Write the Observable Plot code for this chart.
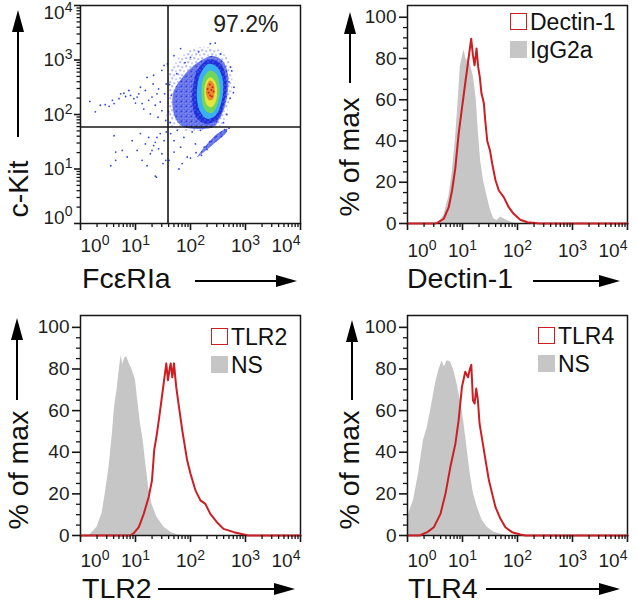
<!DOCTYPE html>
<html><head><meta charset="utf-8">
<script src="https://cdn.jsdelivr.net/npm/d3@7"></script>
<script src="https://cdn.jsdelivr.net/npm/@observablehq/plot@0.6"></script>
<style>
body{margin:0;background:#fff;}
#root{position:relative;width:638px;height:604px;overflow:hidden;background:#fff;font-family:"Liberation Sans",Arial,Helvetica,sans-serif;color:#111;}
#root svg{position:absolute;overflow:visible;}
.t{position:absolute;white-space:nowrap;line-height:1;}
.title{font-size:28.5px;}
.rot{transform:translate(-50%,-50%) rotate(-90deg);}
.leg{font-size:23px;}
.sq{position:absolute;box-sizing:border-box;width:17px;height:17px;}
.hs{position:absolute;height:2.6px;background:#000;}
.hh{position:absolute;width:0;height:0;border-top:6.5px solid transparent;border-bottom:6.5px solid transparent;border-left:21px solid #000;}
.vs{position:absolute;width:2.6px;background:#000;}
.vh{position:absolute;width:0;height:0;border-left:6.5px solid transparent;border-right:6.5px solid transparent;border-bottom:22px solid #000;}
</style>
</head><body>
<div id="root"></div>
<script>
// ---------- data (x values are log10 of fluorescence, y values are % of max) ----------
const decadeTicks = [1, 10, 100, 1000, 10000];
const minorMultipliers = [2, 3, 4, 5, 6, 7, 8, 9];
const pctMajorTicks = [0, 20, 40, 60, 80, 100];
const pctMinorTicks = [5, 10, 15, 25, 30, 35, 45, 50, 55, 65, 70, 75, 85, 90, 95];

const dectinRed = [[0,0],[0.5,0],[0.54,0.3],[0.66,2.3],[0.75,7.9],[0.81,16],[0.87,27],[0.93,43.5],[0.99,56],[1.05,68],[1.11,80],[1.158,89.6],[1.19,81.5],[1.22,76.7],[1.255,84.8],[1.285,75.9],[1.315,71],[1.345,63],[1.37,60.5],[1.39,58],[1.41,51],[1.45,40],[1.5,35.4],[1.54,29],[1.6,21],[1.66,16],[1.75,12.8],[1.84,7.9],[1.93,4.7],[2.05,1.8],[2.18,0.6],[2.33,0.2],[2.4,0],[4,0]];
const igg2aGray = [[0.5,0],[0.57,0.5],[0.66,3.9],[0.75,12.8],[0.81,24],[0.87,40],[0.93,63],[0.96,76],[1.01,82.4],[1.03,84],[1.06,80],[1.08,79],[1.11,80.5],[1.14,77.5],[1.2,71],[1.25,60],[1.29,43.5],[1.33,30.6],[1.38,21],[1.45,12.8],[1.51,6.3],[1.57,2.3],[1.63,1.5],[1.69,3.1],[1.75,2.3],[1.84,1.1],[1.93,0.3],[2.0,0]];

const tlr2Red = [[0,0],[0.9,0],[0.97,1.1],[1.06,4],[1.15,10.4],[1.24,18.5],[1.3,26.5],[1.34,41],[1.39,49],[1.44,58.6],[1.48,66.6],[1.52,74.6],[1.56,82.7],[1.59,74.6],[1.62,80],[1.64,82.7],[1.67,76],[1.7,82.7],[1.74,71.4],[1.79,61.8],[1.85,50.6],[1.89,44],[1.94,36],[2.0,29.7],[2.09,21.7],[2.18,16.9],[2.27,15.2],[2.36,10.4],[2.48,6.4],[2.6,3.2],[2.79,1.6],[2.97,0.5],[3.05,0],[4,0]];
const tlr2Gray = [[0.15,0],[0.18,0.5],[0.3,4],[0.39,10.4],[0.45,20],[0.52,33],[0.58,49],[0.62,62],[0.67,71],[0.71,81],[0.74,86.5],[0.77,82],[0.8,85],[0.84,86],[0.88,83],[0.94,79.5],[1.0,74.6],[1.04,65],[1.09,53.8],[1.14,45.7],[1.18,36],[1.24,23],[1.3,15],[1.39,8.8],[1.52,4],[1.64,1.6],[1.76,0.3],[1.85,0]];

const tlr4Red = [[0,0],[0.22,0],[0.36,1.6],[0.48,4],[0.6,10.4],[0.69,20],[0.78,33],[0.87,44],[0.93,55.4],[0.99,71.4],[1.05,78.7],[1.1,76],[1.13,79.5],[1.16,82],[1.19,65],[1.22,63.4],[1.25,70.6],[1.28,65],[1.31,53.8],[1.36,45.7],[1.42,36],[1.48,26.5],[1.54,20],[1.6,13.6],[1.69,8],[1.78,4],[1.9,1.6],[2.05,0.5],[2.15,0],[4,0]];
const tlr4Gray = [[0,8.8],[0.11,16.9],[0.2,29.7],[0.29,45.7],[0.36,52],[0.42,60],[0.51,73],[0.57,79.5],[0.63,84],[0.67,81],[0.72,84],[0.78,83.5],[0.84,79.5],[0.9,73],[0.96,65],[1.02,55.4],[1.08,42.5],[1.14,29.7],[1.2,20],[1.27,13.6],[1.36,7.2],[1.45,4],[1.57,1.6],[1.72,0.5],[1.8,0]];

// scatter (log10 FceRIa, log10 c-Kit)
const gateFceRIa = 39, gateCKit = 59;
const gateLabel = "97.2%";
const haloLevel = [[1.61,2.75],[1.82,3.08],[2.18,3.24],[2.55,3.17],[2.73,2.93],[2.76,2.50],[2.67,2.07],[2.55,1.80],[1.61,1.78],[1.58,2.26]];
const sparseBlueLevel = [[2.39,3.08],[2.58,2.99],[2.68,2.75],[2.68,2.44],[2.62,2.13],[2.51,1.89],[2.42,1.77],[1.88,1.77],[1.73,1.92],[1.67,2.2],[1.70,2.44],[1.85,2.68],[2.06,2.9],[2.24,3.02]];
const denseBlueLevel = [[2.33,3.01],[2.55,2.93],[2.64,2.70],[2.65,2.44],[2.59,2.12],[2.48,1.90],[2.28,1.83],[2.10,1.95],[2.03,2.25],[2.05,2.55],[2.13,2.82]];
const cyanLevel = [[2.333,2.93],[2.485,2.868],[2.576,2.684],[2.594,2.44],[2.545,2.165],[2.455,1.982],[2.303,1.921],[2.182,2.043],[2.121,2.257],[2.121,2.501],[2.182,2.747]];
const greenLevel = [[2.351,2.807],[2.467,2.747],[2.527,2.563],[2.527,2.349],[2.473,2.134],[2.376,2.024],[2.273,2.073],[2.212,2.226],[2.2,2.44],[2.231,2.655]];
const yellowLevel = [[2.364,2.684],[2.455,2.593],[2.485,2.409],[2.455,2.226],[2.376,2.134],[2.291,2.183],[2.255,2.349],[2.261,2.532],[2.303,2.636]];
const redLevel = [[2.351,2.624],[2.424,2.563],[2.436,2.409],[2.412,2.288],[2.345,2.257],[2.291,2.349],[2.291,2.501]];
const streakLevel = [[2.182,1.308],[2.485,1.646],[2.667,1.738],[2.655,1.675],[2.424,1.462],[2.121,1.217]];
const redSpeckles = [[2.35,2.55],[2.38,2.45],[2.33,2.40],[2.40,2.50],[2.36,2.35],[2.42,2.42],[2.31,2.47],[2.39,2.33]];
const sparseDots = [
 [0.17,2.24],[0.27,2.05],[0.36,2.17],[0.45,2.18],[0.52,2.15],[0.58,2.26],[0.61,2.20],[0.70,2.29],[0.73,2.38],[0.79,2.39],
 [0.82,2.33],[0.88,2.44],[0.91,2.35],[0.97,2.29],[1.0,2.21],[1.03,2.32],[1.06,2.38],[1.09,2.50],[1.12,2.20],[1.15,2.10],
 [1.18,2.44],[1.21,2.68],[1.24,2.26],[1.27,2.01],[1.30,2.32],[1.32,2.56],[1.33,2.72],[1.36,2.17],[1.39,2.38],[1.41,1.95],
 [1.42,2.47],[1.45,2.23],[1.48,2.07],[1.48,2.81],[1.52,2.90],[1.53,2.38],[1.55,1.89],[1.56,2.56],
 [0.61,1.61],[0.55,1.06],[0.64,1.16],[0.76,1.34],[0.85,1.22],[0.94,1.52],[1.03,1.34],[1.09,1.65],[1.12,1.16],[1.18,1.46],
 [1.21,1.06],[1.24,1.58],[1.27,1.28],[1.30,1.34],[1.33,1.43],[1.36,1.49],[1.38,0.85],[1.39,1.58],[1.42,1.37],[1.45,1.65],
 [1.48,1.28],[1.52,1.52],[1.55,1.16],[1.56,1.68],[0.64,1.31],[1.36,0.87],[1.50,1.10],
 [1.64,1.65],[1.70,1.52],[1.76,1.71],[1.82,1.40],[1.88,1.58],[1.94,1.22],[2.03,1.68],[2.09,1.46],[2.18,1.71],[1.70,1.31],
 [1.61,1.16],[1.85,1.10],[1.79,1.00],
 [2.36,3.30],[2.55,3.11],[1.82,3.21],[1.58,2.93],[1.70,3.08],[2.45,3.31],[2.73,2.87],[2.79,2.50],
 [1.62,2.55],[1.65,2.35],[1.60,2.05],[1.63,1.85],[1.75,2.75],[1.9,2.95],[2.0,3.05],[2.15,3.15],[2.7,2.6],[2.72,2.3],
 [2.66,2.0],[2.6,1.85],[2.75,2.8],[2.78,2.4],[2.0,1.2],[2.1,1.3],[2.25,1.4],[2.35,1.5],[2.55,1.66],[2.62,1.72],[2.7,1.75],
 [2.3,1.36],[2.45,1.58],[2.2,1.25]
];

// ---------- helpers ----------
const RED = "#cc1f24", GRAY = "#c6c6c6", INK = "#161616";
const SVGNS = "http://www.w3.org/2000/svg";
const minorLogTicks = decadeTicks.slice(0, 4).flatMap(d => minorMultipliers.map(m => d * m));
const supFmt = d => "10^" + Math.round(Math.log10(d));
const X = d => 10 ** d[0];
const root = document.getElementById("root");

function logAxisX(pad) {
  const o = {label: null, fontSize: 19, fill: "#1e1e1e"};
  return [
    Plot.axisX(minorLogTicks, {...o, tickSize: 4, tickFormat: () => "", strokeWidth: 1.3}),
    Plot.axisX(decadeTicks, {...o, tickSize: 7, tickFormat: () => "", strokeWidth: 1.6}),
    Plot.axisX([decadeTicks[0]], {...o, tickSize: 0, tickPadding: pad, tickFormat: supFmt, textAnchor: "start"}),
    Plot.axisX(decadeTicks.slice(1, 4), {...o, tickSize: 0, tickPadding: pad, tickFormat: supFmt}),
    Plot.axisX([decadeTicks[4]], {...o, tickSize: 0, tickPadding: pad, tickFormat: supFmt, textAnchor: "end"})
  ];
}
function logAxisY() {
  const o = {label: null, fontSize: 19, fill: "#1e1e1e"};
  return [
    Plot.axisY(minorLogTicks, {...o, tickSize: 3.5, tickFormat: () => "", strokeWidth: 1.3}),
    Plot.axisY(decadeTicks, {...o, tickSize: 6, tickFormat: () => "", strokeWidth: 1.6}),
    Plot.axisY([decadeTicks[0]], {...o, tickSize: 0, tickPadding: 8, tickFormat: supFmt, lineAnchor: "bottom"}),
    Plot.axisY(decadeTicks.slice(1, 4), {...o, tickSize: 0, tickPadding: 8, tickFormat: supFmt}),
    Plot.axisY([decadeTicks[4]], {...o, tickSize: 0, tickPadding: 8, tickFormat: supFmt, lineAnchor: "top"})
  ];
}
function pctAxisY() {
  const o = {label: null, fontSize: 19, fill: "#1e1e1e"};
  return [
    Plot.axisY(pctMinorTicks, {...o, tickSize: 4, tickFormat: () => "", strokeWidth: 1.3}),
    Plot.axisY(pctMajorTicks, {...o, tickSize: 8, tickPadding: 3, strokeWidth: 1.6})
  ];
}
function superscripts(svg) {
  svg.querySelectorAll("text").forEach(t => {
    const m = /^10\^(\d)$/.exec(t.textContent);
    if (m) {
      t.textContent = "10";
      const ts = document.createElementNS(SVGNS, "tspan");
      ts.setAttribute("dy", "-0.5em");
      ts.setAttribute("font-size", "0.74em");
      ts.textContent = m[1];
      t.appendChild(ts);
    }
  });
}
function place(svg, left, top) {
  superscripts(svg);
  svg.style.left = left + "px";
  svg.style.top = top + "px";
  root.appendChild(svg);
}
const baseStyle = {fontFamily: '"Liberation Sans", Arial, sans-serif', background: "transparent", color: INK, overflow: "visible"};

// ---------- panel 1: scatter ----------
const poly = (data, fill, extra = {}) => Plot.line(data, {x: X, y: d => 10 ** d[1], fill, stroke: "none", curve: "catmull-rom-closed", ...extra});
const p1 = Plot.plot({
  width: 319, height: 300, marginLeft: 80, marginRight: 19, marginTop: 5, marginBottom: 77,
  style: baseStyle,
  x: {type: "log", domain: [1, 1e4]},
  y: {type: "log", domain: [1, 1e4]},
  marks: [
    poly(haloLevel, "url(#spkLight)"),
    poly(sparseBlueLevel, "url(#spkMid)"),
    poly(denseBlueLevel, "url(#spkDense)"),
    poly(cyanLevel, "#3ab0f2"),
    poly(greenLevel, "#6cd65e"),
    poly(yellowLevel, "#e6e23e"),
    poly(redLevel, "#e88a2e"),
    poly(streakLevel, "url(#spkMid)"),
    Plot.dot(sparseDots, {x: X, y: d => 10 ** d[1], r: 0.9, fill: "#3444e0"}),
    Plot.dot(redSpeckles, {x: X, y: d => 10 ** d[1], r: 1, fill: "#cc2020"}),
    Plot.ruleX([gateFceRIa], {stroke: INK, strokeWidth: 1.6}),
    Plot.ruleY([gateCKit], {stroke: INK, strokeWidth: 1.6}),
    Plot.frame({stroke: INK, strokeWidth: 1.5}),
    ...logAxisX(15),
    ...logAxisY(),
    Plot.text([gateLabel], {frameAnchor: "top-right", dx: -22, dy: 10, lineAnchor: "top", textAnchor: "end", fontSize: 23, fill: "#222"})
  ]
});
// stipple textures imitating the dot cloud density
const defs = document.createElementNS(SVGNS, "defs");
defs.innerHTML =
  '<pattern id="spkLight" width="8" height="8" patternUnits="userSpaceOnUse">' +
    '<rect x="1" y="1" width="1.3" height="1.3" fill="#3f4fe2"/><rect x="5" y="2" width="1.3" height="1.3" fill="#5664e6"/>' +
    '<rect x="3" y="5" width="1.3" height="1.3" fill="#3f4fe2"/><rect x="7" y="6" width="1.3" height="1.3" fill="#6a78ea"/>' +
  '</pattern>' +
  '<pattern id="spkMid" width="5" height="5" patternUnits="userSpaceOnUse">' +
    '<rect width="5" height="5" fill="#8f9af0"/>' +
    '<rect x="0" y="0" width="2" height="2" fill="#2c3ce0"/><rect x="3" y="1" width="1.5" height="1.5" fill="#2c3ce0"/>' +
    '<rect x="1" y="3" width="1.5" height="1.5" fill="#2c3ce0"/><rect x="3.5" y="3.5" width="1.5" height="1.5" fill="#3a4ae4"/>' +
  '</pattern>' +
  '<pattern id="spkDense" width="5" height="5" patternUnits="userSpaceOnUse">' +
    '<rect width="5" height="5" fill="#1f2fdc"/>' +
    '<rect x="2" y="1" width="1" height="1" fill="#8a96f0"/><rect x="4" y="4" width="1" height="1" fill="#8a96f0"/>' +
  '</pattern>';
p1.insertBefore(defs, p1.firstChild);
place(p1, 0, 0);

// ---------- histogram panels ----------
function hist(gray, red, m, pad) {
  return Plot.plot({
    width: 319, height: m.h, marginLeft: m.l, marginRight: m.r, marginTop: m.t, marginBottom: m.b,
    style: baseStyle,
    x: {type: "log", domain: [1, 1e4]},
    y: {domain: [0, 105.7]},
    marks: [
      Plot.areaY(gray, {x: X, y: d => d[1], fill: GRAY, curve: "linear"}),
      Plot.frame({stroke: INK, strokeWidth: 1.5}),
      Plot.line(red, {x: X, y: d => d[1], stroke: RED, strokeWidth: 2, curve: "linear"}),
      ...logAxisX(pad),
      ...pctAxisY()
    ]
  });
}
place(hist(igg2aGray, dectinRed, {h: 300, l: 88, r: 11, t: 5, b: 77}, 20), 319, 0);
place(hist(tlr2Gray, tlr2Red, {h: 304, l: 80, r: 19, t: 15, b: 69}, 18), 0, 300);
place(hist(tlr4Gray, tlr4Red, {h: 304, l: 88, r: 11, t: 15, b: 69}, 18), 319, 300);

// ---------- titles, arrows, legends (HTML) ----------
function el(cls, css, text) {
  const d = document.createElement("div");
  d.className = cls;
  Object.assign(d.style, css);
  if (text != null) d.textContent = text;
  root.appendChild(d);
  return d;
}
const px = v => v + "px";
function title(text, left, baseline) { el("t title", {left: px(left), top: px(baseline - 24.1)}, text); }
function vtitle(text, cx, cy) { el("t title rot", {left: px(cx), top: px(cy)}, text); }
function hArrow(x1, x2, y) {
  el("hs", {left: px(x1), top: px(y - 1.3), width: px(x2 - x1 - 20)});
  el("hh", {left: px(x2 - 21), top: px(y - 6.5)});
}
function vArrow(x, yTop, yBottom) {
  el("vs", {left: px(x - 1.3), top: px(yTop + 20), height: px(yBottom - yTop - 20)});
  el("vh", {left: px(x - 6.5), top: px(yTop)});
}
function legend(left, top, names) {
  el("sq", {left: px(left), top: px(top), border: "1.6px solid " + RED, background: "#fff"});
  el("t leg", {left: px(left + 20), top: px(top + 17 - 19.5)}, names[0]);
  el("sq", {left: px(left), top: px(top + 28), background: GRAY});
  el("t leg", {left: px(left + 20), top: px(top + 28 + 17 - 19.5)}, names[1]);
}

title("FcεRIa", 82, 288); hArrow(195, 297, 281);
vtitle("c-Kit", 18, 189); vArrow(18, 10, 137);
title("Dectin-1", 407, 288); hArrow(533, 620, 281);
vtitle("% of max", 349, 157); vArrow(350, 12, 83);
title("TLR2", 82, 598); hArrow(158, 295, 589);
vtitle("% of max", 17.5, 470); vArrow(17, 318, 400);
title("TLR4", 408, 598); hArrow(486, 620, 589);
vtitle("% of max", 349, 470); vArrow(352, 320, 400);

legend(510, 13, ["Dectin-1", "IgG2a"]);
legend(211, 328, ["TLR2", "NS"]);
legend(538, 327, ["TLR4", "NS"]);
</script>
</body></html>
